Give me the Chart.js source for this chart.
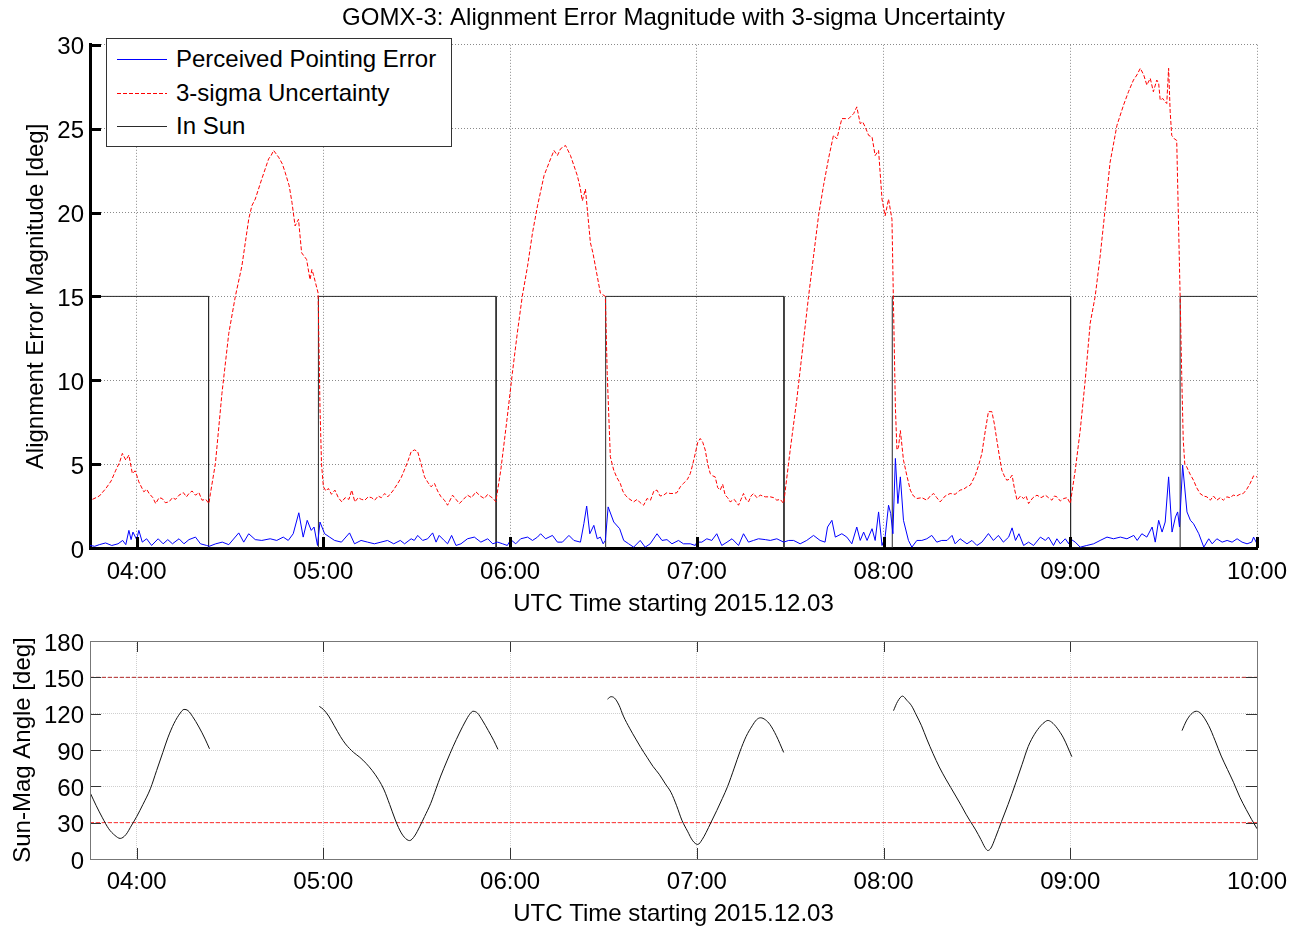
<!DOCTYPE html>
<html>
<head>
<meta charset="utf-8">
<script src="https://cdn.jsdelivr.net/npm/chart.js@4.4.1/dist/chart.umd.min.js"></script>
<style>
  body { margin: 0; background: #fff; overflow: hidden; }
  #wrap { position: relative; width: 1293px; height: 927px; overflow: hidden;
          font-family: "Liberation Sans", Arial, Helvetica, sans-serif; }
  canvas { position: absolute; left: 0; }
  #errChart { top: 0; }
  #angChart { top: 620px; }
  #legend { position: absolute; z-index: 2; box-sizing: border-box; width: 346px; height: 109px;
            border: 1px solid #333; background: #fff; }
  .lrow { position: absolute; left: 9px; height: 30px; display: flex; align-items: center;
          font-size: 24px; line-height: 30px; color: #000; white-space: nowrap; }
  .lrow svg { display: block; }
  .lrow span { margin-left: 8px; }
</style>
</head>
<body>
<div id="wrap">
  <canvas id="errChart" width="1293" height="620"></canvas>
  <canvas id="angChart" width="1293" height="309"></canvas>
  <div id="legend"></div>
</div>
<script>
/* ================= DATA ================= */
// time axis = minutes after 00:00 UTC, 2015.12.03

const hourTicks = [240, 300, 360, 420, 480, 540, 600];
const hourLabels = ["04:00", "05:00", "06:00", "07:00", "08:00", "09:00", "10:00"];
const errTicks = [0, 5, 10, 15, 20, 25, 30];
const angTicks = [0, 30, 60, 90, 120, 150, 180];

// perceived pointing error [deg]
const errPts = [
  [225,0.15],[226.5,0.1],[228,0.2],[230,0.3],[232,0.15],[234,0.25],[235.5,0.45],[236.5,0.2],
  [237.5,1.05],[238.2,0.5],[238.8,0.95],[240,0.5],[240.7,1.05],[241.8,0.35],[243.2,0.55],[244.8,0.15],
  [246.9,0.55],[248.5,0.25],[250,0.5],[251.5,0.25],[253.6,0.55],[255.2,0.25],[256.8,0.5],[258.9,0.65],
  [260.5,0.25],[262.5,0.15],[263.3,0.1],[265.4,0.25],[267.5,0.35],[269.6,0.2],[272.8,0.9],[274.4,0.35],
  [276,0.85],[278.1,0.5],[280.2,0.45],[282.9,0.55],[285,0.45],[287.1,0.65],[288.7,0.45],[290.3,0.85],
  [292.1,2.1],[293.5,0.65],[294.8,1.65],[296.1,1.05],[297,1.25],[298.1,0.15],[298.9,1.55],[300.4,0.85],
  [302,0.65],[303.6,0.45],[305.8,0.35],[308.4,0.9],[310,0.25],[312.1,0.45],[314.2,0.35],[316.4,0.25],
  [318.5,0.35],[320.6,0.45],[322.6,0.25],[324.7,0.45],[326.1,0.25],[328.2,0.55],[329.2,0.45],[330.3,0.75],
  [331.9,0.45],[333.5,0.55],[335.1,0.9],[336.2,0.35],[337.2,0.75],[338.8,0.45],[339.9,0.25],[341.2,0.75],
  [342.6,0.15],[344.2,0.25],[346.3,0.55],[348.5,0.65],[350.6,0.35],[352.8,0.55],[354.4,0.25],[356,0.35],
  [357.6,0.25],[359.1,0.15],[360.2,0.5],[361.8,0.25],[363.4,0.55],[365.6,0.65],[367.2,0.45],[368.8,0.65],
  [369.8,0.85],[371.4,0.55],[373.6,0.75],[375.2,0.35],[376.8,0.35],[378.9,0.75],[380.5,0.45],[382.6,0.35],
  [383.7,1.45],[384.6,2.5],[385.6,0.85],[386.9,1.35],[388,0.55],[389,0.65],[389.9,0.25],[390.6,0.45],
  [391.5,2.45],[393.3,1.55],[395.2,1.15],[396.5,0.45],[398.1,0.25],[399.7,0.05],[401.8,0.45],[403.4,0.05],
  [405,0.25],[407.2,0.85],[408.8,0.45],[410.4,0.5],[412,0.25],[414.1,0.45],[415.7,0.25],[417.9,0.25],
  [419.5,0.15],[420,0.35],[421.6,0.35],[423.2,0.55],[424.8,0.45],[426.4,0.85],[428,0.15],[429.7,0.35],
  [431.3,0.55],[433.4,0.15],[435,0.85],[436.6,0.35],[438.2,0.45],[439.8,0.55],[442,0.5],[443.6,0.45],
  [445.7,0.55],[447.9,0.35],[449.5,0.45],[451.1,0.45],[453.2,0.25],[455.3,0.45],[457.5,0.75],[459.6,0.45],
  [461.2,0.35],[462,1.25],[463.4,1.65],[464.5,0.65],[466.6,0.85],[468.2,0.65],[469.8,0.25],[471.4,1.25],
  [472.5,0.45],[473.6,0.95],[474.7,0.45],[476.3,1.15],[477.3,0.45],[478.4,2.15],[479.5,0.15],[480.5,0.65],
  [481.6,2.55],[482.3,2.05],[483,0.85],[483.8,5.34],[484.6,2.65],[485.4,4.24],[486.4,1.65],[488,0.45],
  [489.1,0.05],[490.7,0.45],[492.3,0.45],[493.9,0.55],[495.5,0.75],[497.1,0.35],[498.7,0.45],[500.4,0.45],
  [502,0.75],[503,0.25],[504.6,0.55],[506.8,0.25],[508.4,0.45],[510,0.15],[511.6,0.35],[513.7,0.86],
  [515.3,0.45],[516.9,0.75],[518.5,0.35],[520.2,0.65],[521.3,1.2],[522.4,0.45],[523.5,0.85],[525,0.15],
  [526.6,0.35],[528.2,0.15],[530.4,0.65],[532,0.45],[533,0.65],[534.6,0.15],[535.7,0.55],[536.8,0.25],
  [538.4,0.55],[539.5,0.25],[540,0.55],[541.6,0.35],[543.2,0.05],[545.3,0.15],[547.5,0.25],[549.6,0.45],
  [551.8,0.65],[553.9,0.55],[556.1,0.65],[558.2,0.55],[560.4,0.75],[561.5,0.45],[563,0.85],[564.6,0.65],
  [566.3,1.25],[567.3,0.35],[568.4,1.65],[569.5,0.95],[570.5,1.55],[571.6,4.24],[572.7,0.95],[573.8,1.85],
  [574.5,2.15],[575.1,1.25],[576.1,4.94],[577.5,2.15],[578.6,1.65],[579.6,1.45],[581.3,0.85],[582.9,0.05],
  [584.5,0.55],[585.6,0.25],[587.1,0.55],[588.8,0.35],[590.4,0.45],[592,0.35],[593.6,0.55],[595.2,0.35],
  [596.8,0.25],[598.3,0.35],[598.9,0.65],[600,0.25]
];

// 3-sigma uncertainty [deg]
const sigmaPts = [
  [225.8,2.9],[228,3.1],[230.1,3.55],[231.8,4.0],[233.3,4.64],[234.5,5.1],[235.4,5.64],[236.5,5.24],
  [237.5,5.54],[238.6,4.44],[239.5,4.6],[240.2,4.24],[240.7,3.94],[242.3,3.35],[243.2,3.5],[244,3.25],
  [245.2,3.0],[246.1,2.65],[247.2,3.0],[248.2,2.95],[249.2,2.7],[250.4,2.75],[251.5,3.0],[252.5,2.9],
  [253.6,3.15],[255,3.3],[256,3.05],[256.8,3.25],[257.8,3.4],[258.9,3.15],[260,3.3],[261,2.85],
  [262.2,2.9],[263.2,2.65],[263.7,3.25],[265.3,5.04],[267.4,9.22],[269.6,12.8],[271.7,15.0],[273.8,16.8],
  [276,19.6],[277,20.4],[278.1,20.8],[280.2,22.0],[282.4,23.2],[283.2,23.4],[284,23.7],[285.6,23.3],
  [286.8,22.9],[287.7,22.4],[289,21.6],[289.9,20.6],[290.9,19.2],[292,19.6],[293,17.6],[294.6,17.2],
  [295.7,16.0],[296.3,16.6],[296.8,16.3],[298.3,15.2],[298.9,8.4],[299.4,5.0],[300,3.65],[300.8,3.4],
  [301.6,3.55],[302.6,3.2],[303.7,3.45],[304.8,3.0],[305.9,2.75],[307,3.0],[308.2,2.9],[309.1,3.45],
  [310.1,2.75],[311.2,3.0],[312.2,2.9],[313.3,2.85],[314.4,3.05],[315.5,3.0],[316.5,2.85],[317.6,3.1],
  [318.6,3.0],[319.7,3.25],[320.7,3.05],[322.3,3.4],[323.9,3.85],[325,4.2],[326,4.64],[327.2,5.2],
  [328.2,5.74],[329.3,5.85],[330.3,5.74],[331.4,5.0],[332.5,4.24],[333.6,3.9],[334.6,3.65],[335.7,3.85],
  [336.7,3.4],[337.8,3.05],[338.9,2.85],[339.9,2.55],[341.5,3.15],[342.6,2.9],[343.7,2.65],[345,2.9],
  [346.3,3.15],[347.6,3.0],[349,3.35],[350.4,3.1],[351.7,2.95],[352.8,3.2],[353.8,3.05],[354.6,2.95],
  [355.4,2.75],[357,4.64],[359.1,7.83],[360.7,10.4],[362.3,12.8],[363.9,15.0],[365.6,16.8],[367.2,18.8],
  [368.8,20.4],[370.9,22.2],[373,23.2],[374.1,23.7],[375.2,23.4],[376.2,23.8],[377.8,24.0],[379.4,23.4],
  [380.5,22.8],[381.6,22.2],[382.5,21.5],[383.2,20.7],[384.2,21.4],[385,19.8],[385.8,18.2],[386.6,17.6],
  [387.4,16.8],[389,15.2],[390.6,15.0],[391.2,10.4],[392.2,5.44],[393.3,4.64],[394.3,4.2],[395.4,3.85],
  [396.2,3.4],[397,3.15],[398.1,2.95],[399.7,2.75],[400.8,2.9],[401.8,2.7],[402.9,2.55],[404,2.95],
  [405.1,2.85],[406.2,3.4],[407.2,3.45],[408.2,3.1],[409.3,3.15],[410.4,3.3],[411.4,3.25],[412.5,3.25],
  [413.6,3.3],[414.7,3.65],[415.7,3.85],[417,4.1],[417.9,4.44],[418.7,5.0],[419.5,5.64],[420.3,6.3],
  [421.1,6.53],[421.9,6.3],[422.7,5.84],[423.5,5.0],[424.3,4.44],[425.1,4.3],[425.9,4.24],[426.7,3.6],
  [427.5,3.45],[428.3,3.8],[429.1,3.15],[429.9,3.0],[430.7,2.75],[432,2.9],[433.4,2.55],[434.2,2.9],
  [435,3.25],[435.8,2.9],[436.6,2.75],[437.4,3.1],[438.2,3.25],[439.3,3.0],[440.4,3.15],[442,3.05],
  [443.6,3.05],[444.7,3.0],[445.7,2.85],[446.8,2.9],[447.9,2.65],[450,5.84],[452.1,8.82],[454.3,12.4],
  [455.9,15.0],[457.5,17.4],[459.1,19.8],[460.7,21.6],[462.3,23.2],[463.9,24.6],[465,24.4],[466.6,25.6],
  [467.7,25.6],[468.8,25.6],[470.4,25.9],[471.4,26.3],[472.5,25.3],[473.3,25.4],[474.1,25.1],[475.2,24.6],
  [476.3,24.5],[477.3,23.4],[478.4,23.7],[479.5,20.8],[480.5,19.8],[481.6,20.8],[482.7,19.6],[483.2,14.4],
  [483.8,8.4],[484.3,5.84],[484.8,6.0],[485.4,7.0],[486.4,5.24],[487.5,4.3],[488.6,3.45],[489.6,3.1],
  [490.7,2.95],[492.3,3.0],[493.9,2.85],[495,3.1],[496.1,3.25],[497.1,3.0],[498.2,2.75],[499.8,3.1],
  [501.4,3.25],[503,3.2],[504.6,3.45],[505.7,3.5],[506.8,3.65],[507.9,3.75],[509.5,4.34],[510.5,4.9],
  [511.6,5.64],[512.7,7.0],[513.7,8.13],[514.8,8.13],[515.6,7.4],[516.4,6.43],[517.2,5.5],[518,4.64],
  [518.8,4.3],[519.6,4.04],[520.4,4.1],[521.3,4.34],[522.1,3.5],[522.9,2.85],[524,3.1],[525,2.95],
  [525.8,3.1],[526.6,2.65],[528,3.0],[529.3,3.15],[530.6,3.0],[532,3.15],[533,3.0],[534.1,2.85],
  [534.9,3.1],[535.7,3.05],[536.8,2.8],[537.9,2.95],[539,3.0],[540,2.65],[541.6,4.64],[543.2,7.03],
  [544.8,10.0],[546.4,13.4],[548,15.0],[549.6,17.4],[551.2,20.2],[552.8,23.0],[555,25.2],[557.1,26.4],
  [558.7,27.2],[560.3,27.9],[561.4,28.2],[562.5,28.6],[563.6,28.2],[564.6,27.6],[565.7,28.0],[566.7,27.2],
  [567.8,27.9],[568.4,27.7],[568.9,26.7],[569.7,26.8],[570.5,26.6],[571,26.5],[571.6,28.6],[572.1,26.0],
  [572.6,24.6],[573.4,24.4],[574.2,24.3],[575.3,15.0],[575.8,10.4],[576.3,6.43],[576.8,5.0],[577.4,4.84],
  [578.5,4.4],[579.6,4.04],[580.6,3.6],[581.7,3.25],[582.8,3.1],[583.9,3.05],[585,2.85],[586,3.1],
  [587.1,2.85],[588.2,3.0],[589.2,2.85],[590.3,3.05],[591.3,3.0],[592.4,3.15],[593.5,3.1],[594.5,3.2],
  [595.6,3.25],[596.7,3.5],[597.8,3.85],[598.9,4.3],[600,4.24]
];

// in-sun flag drawn at 15 deg (0 = eclipse)
const sunPts = [
  [225,15],[263.1,15],[263.1,0],[298.4,0],[298.4,15],[355.5,15],[355.5,0],[390.7,0],[390.7,15],
  [448,15],[448,0],[482.8,0],[482.8,15],[540.1,15],[540.1,0],[575.3,0],[575.3,15],[600,15]
];

// sun-mag angle [deg], null = eclipse gap
const anglePts = [
  [225,55],[227,44],[229,34],[231,25],[233,19.5],[234.7,17],[236.5,20],[238.4,28],[240,35],[242,45],
  [244.4,58],[246.4,73],[248.4,88],[250,100],[252,112],[254,120.5],[255.2,123.5],[256.5,122.5],
  [258,117.5],[260,109],[262,99],[263.4,91],
  [280,null],
  [298.7,126],[300,123.5],[301.7,118],[303.5,110],[305.5,101],[307.1,95],[309.7,88],[311.7,84],
  [313.7,79],[315.7,73],[317.7,65.6],[319.5,57],[321.3,45],[323,33],[324.5,24],[326,18],[327.7,15.2],
  [329.3,19],[331,27],[332.5,35],[334.5,46],[336.2,58],[337.7,68.5],[339.7,81],[341.7,93],[343.7,104],
  [345.7,114],[347,119.5],[348.1,122],[349.5,120.5],[351.2,114],[353,106],[354.7,98],[356.1,90.5],
  [370,null],
  [391.3,132],[392.4,134],[393.5,133],[395,127],[396.4,118],[398.4,108],[400.4,99],[402,92],[404,84],
  [405.9,76.5],[407.9,70],[409.9,62],[411.7,55],[413.5,44],[415.2,32],[417,23],[418.7,15],[420.3,12],
  [421.7,16],[423,22],[424.5,30],[426.4,40],[428.2,50],[429.9,60],[432,75],[433.9,89],[435.8,101],
  [437.8,110],[439.2,115],[440.5,116.6],[442,115],[443.5,111],[445.5,102],[447.9,88],
  [465,null],
  [483.2,122.5],[484.5,130],[486.1,134.5],[487.5,131],[489,126.5],[490.5,119],[492.2,110],[493.9,99],
  [495.9,87],[497.9,76],[500,66],[501.6,59],[503.2,52],[505,44],[506.5,37],[507.9,31],[509.6,24],
  [511.3,16],[512.6,9.5],[513.5,7],[514.5,9],[516,18],[517.9,31],[520,45],[522.5,63],[524.5,78],
  [526.5,93],[528.5,103],[530.5,110],[532,113.5],[532.8,114.4],[534,113],[535.8,108],[537.8,100],
  [540.5,84.5],
  [560,null],
  [575.9,106],[577.3,114],[578.8,119.5],[580.5,122],[582,120],[584.5,110],[586.5,98],[588.5,85],
  [590.5,74],[592.5,63],[594.5,51],[596.5,41],[598.3,32.5],[600,25]
];

const limitT = [225, 600];
const limitLow = [30, 30];
const limitHigh = [150, 150];

/* ================= HELPERS ================= */

Chart.defaults.font.family = '"Liberation Sans", Arial, Helvetica, sans-serif';
Chart.defaults.color = "#000";

const pts = a => a.map(p => ({ x: p[0], y: p[1] }));
const flat = (t, v) => t.map((x, i) => ({ x, y: v[i] }));

// matlab-style ticks pointing into the plot box
const inwardTicks = {
  id: "inwardTicks",
  afterDraw(chart, args, o) {
    const { ctx, chartArea: a, scales: { x, y } } = chart;
    ctx.save();
    ctx.strokeStyle = o.color;
    ctx.lineWidth = o.width;
    ctx.beginPath();
    x.ticks.forEach(t => {
      const px = Math.round(x.getPixelForValue(t.value)) + (o.width % 2 ? 0.5 : 0);
      ctx.moveTo(px, a.bottom); ctx.lineTo(px, a.bottom - o.len);
      if (o.box) { ctx.moveTo(px, a.top); ctx.lineTo(px, a.top + o.len); }
    });
    y.ticks.forEach(t => {
      const py = Math.round(y.getPixelForValue(t.value)) + (o.width % 2 ? 0.5 : 0);
      ctx.moveTo(a.left, py); ctx.lineTo(a.left + o.len, py);
      if (o.box) { ctx.moveTo(a.right, py); ctx.lineTo(a.right - o.len, py); }
    });
    ctx.stroke();
    if (o.box) {
      ctx.lineWidth = 1;
      ctx.strokeStyle = o.frame;
      ctx.strokeRect(Math.round(a.left) + 0.5, Math.round(a.top) + 0.5, Math.round(a.width), Math.round(a.height));
    }
    ctx.restore();
  }
};

// boxed legend (html) over the top-left corner of the plot
function buildLegend(chart) {
  const a = chart.chartArea;
  const box = document.getElementById("legend");
  box.style.left = (Math.round(a.left) + 16) + "px";
  box.style.top = (Math.round(a.top) - 7) + "px";
  chart.data.datasets.forEach((ds, i) => {
    const row = document.createElement("div");
    row.className = "lrow";
    row.style.top = (Math.round(20 + i * 33.5) - 15) + "px";
    const dash = (ds.borderDash || []).join(",");
    row.innerHTML =
      `<svg width="52" height="30"><line x1="1" y1="15.5" x2="51" y2="15.5" stroke="${ds.borderColor}"` +
      ` stroke-width="1"${dash ? ` stroke-dasharray="${dash}"` : ""}/></svg><span>${ds.label}</span>`;
    box.appendChild(row);
  });
}

function timeAxis(height, gridColor, gridDash, borderW, labelPad, titlePad) {
  return {
    type: "linear",
    min: 225,
    max: 600,
    afterBuildTicks: s => { s.ticks = hourTicks.map(v => ({ value: v })); },
    afterFit: s => { s.height = height; },
    ticks: {
      autoSkip: false, maxRotation: 0, padding: labelPad,
      font: { size: 24, lineHeight: 1.6 },
      callback: (v, i) => hourLabels[i]
    },
    grid: { color: gridColor, lineWidth: 1, drawTicks: false },
    border: { display: true, color: "#000", width: borderW, dash: gridDash },
    title: {
      display: true, text: "UTC Time starting 2015.12.03",
      font: { size: 24 }, padding: { top: 0, bottom: titlePad }
    }
  };
}

function valueAxis(max, ticks, label, gridColor, gridDash, borderW, titlePad) {
  return {
    min: 0,
    max,
    afterBuildTicks: s => { s.ticks = ticks.map(v => ({ value: v })); },
    afterFit: s => { s.width = 90; },
    ticks: { padding: 6, labelOffset: 3, font: { size: 24 } },
    grid: { color: gridColor, lineWidth: 1, drawTicks: false },
    border: { display: true, color: "#000", width: borderW, dash: gridDash },
    title: {
      display: true, text: label,
      font: { size: 24 }, padding: { top: titlePad, bottom: 0 }
    }
  };
}

/* ================= TOP: ALIGNMENT ERROR ================= */

const errChart = new Chart(document.getElementById("errChart"), {
  type: "line",
  data: {
    datasets: [
      { label: "Perceived Pointing Error", data: pts(errPts), borderColor: "#0000ff", borderWidth: 1 },
      { label: "3-sigma Uncertainty", data: pts(sigmaPts), borderColor: "#ff0000", borderWidth: 1, borderDash: [4, 2] },
      { label: "In Sun", data: pts(sunPts), borderColor: "#2a2a2a", borderWidth: 1 }
    ]
  },
  options: {
    responsive: false,
    animation: false,
    events: [],
    layout: { padding: { left: 0, right: 36, top: 0, bottom: 0 } },
    elements: { point: { radius: 0 }, line: { tension: 0 } },
    scales: {
      x: timeAxis(72, "#8a8a8a", [1, 2], 3, 5, 1),
      y: valueAxis(30, errTicks, "Alignment Error Magnitude [deg]", "#8a8a8a", [1, 2], 3, 22)
    },
    plugins: {
      legend: { display: false },
      tooltip: { enabled: false },
      title: {
        display: true, fullSize: false,
        text: "GOMX-3: Alignment Error Magnitude with 3-sigma Uncertainty",
        font: { size: 24, weight: "normal" },
        color: "#000",
        padding: { top: 4, bottom: 12 }
      },
      inwardTicks: { color: "#000", width: 3, len: 11, box: false }
    }
  },
  plugins: [inwardTicks]
});

buildLegend(errChart);

/* ================= BOTTOM: SUN-MAG ANGLE ================= */

new Chart(document.getElementById("angChart"), {
  type: "line",
  data: {
    datasets: [
      { label: "Sun-Mag Angle", data: pts(anglePts), borderColor: "#111", borderWidth: 1,
        spanGaps: false, cubicInterpolationMode: "monotone" },
      { label: "low limit", data: flat(limitT, limitLow), borderColor: "#ff2a2a", borderWidth: 1, borderDash: [4, 2] },
      { label: "high limit", data: flat(limitT, limitHigh), borderColor: "#b42828", borderWidth: 1, borderDash: [4, 2] }
    ]
  },
  options: {
    responsive: false,
    animation: false,
    events: [],
    layout: { padding: { left: 0, right: 36, top: 21, bottom: 0 } },
    elements: { point: { radius: 0 } },
    scales: {
      x: timeAxis(70, "#cfcfcf", [1, 1], 1, 4, 0),
      y: valueAxis(180, angTicks, "Sun-Mag Angle [deg]", "#cfcfcf", [1, 1], 1, 9)
    },
    plugins: {
      legend: { display: false },
      tooltip: { enabled: false },
      inwardTicks: { color: "#333", frame: "#777", width: 1, len: 11, box: true }
    }
  },
  plugins: [inwardTicks]
});
</script>
</body>
</html>
